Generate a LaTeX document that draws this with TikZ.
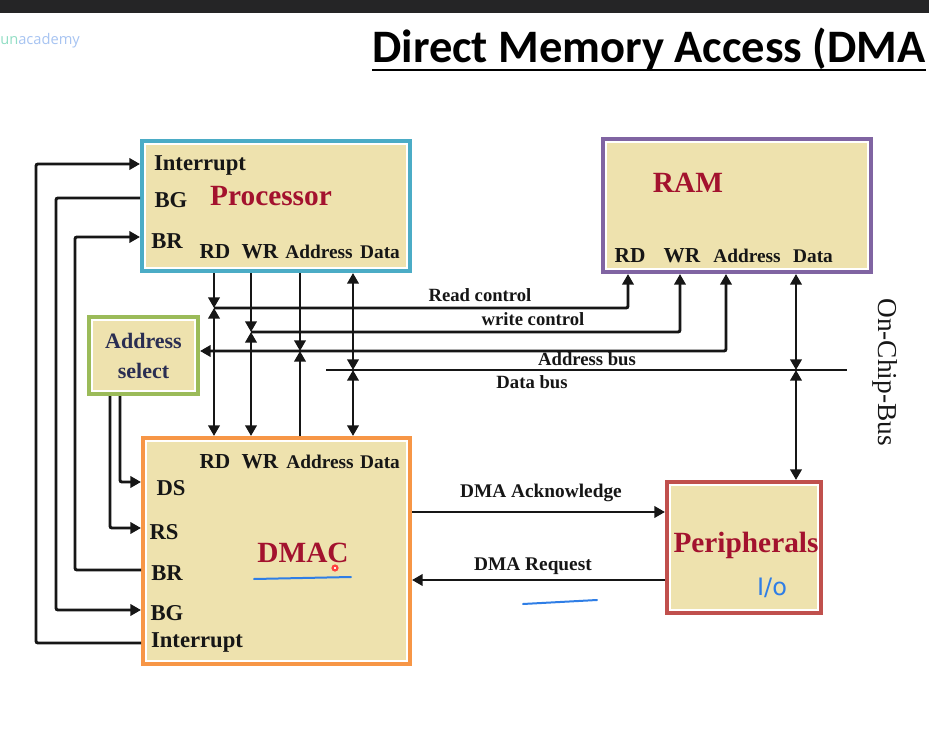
\documentclass[tikz,border=0pt]{standalone}
\usepackage{fontspec}
\setmainfont{Liberation Serif}
\newfontfamily\headfont{Carlito}
\newfontfamily\wmfont{Open Sans}
\newfontfamily\penfont{DejaVu Sans}
\usetikzlibrary{positioning,arrows.meta}
\definecolor{cfill}{HTML}{EEE2AE}
\definecolor{cproc}{HTML}{4BACC6}
\definecolor{cram}{HTML}{8064A2}
\definecolor{csel}{HTML}{9BBB59}
\definecolor{cdma}{HTML}{F79646}
\definecolor{cper}{HTML}{C0504D}
\definecolor{cname}{HTML}{A3122E}
\definecolor{cink}{HTML}{161616}
\definecolor{cnavy}{HTML}{2A2E52}
\definecolor{cpen}{HTML}{2F7EE6}
\definecolor{cbar}{HTML}{252526}
\definecolor{cwma}{HTML}{92DEC4}
\definecolor{cwmb}{HTML}{A7C4F2}
\tikzset{
  unit/.style={rectangle, draw=#1, fill=cfill, line width=3pt, inner sep=0pt,
    path picture={\draw[white, line width=1pt]
      ([shift={(2.2pt,-2.2pt)}]path picture bounding box.north west) rectangle
      ([shift={(-2.2pt,2.2pt)}]path picture bounding box.south east);}},
  unitname/.style={font=\bfseries\fontsize{22}{26}\selectfont, text=cname, inner sep=0pt, anchor=base},
  port/.style={font=\bfseries\fontsize{17}{20}\selectfont, text=cink, inner sep=0pt, anchor=base},
  sig/.style={font=\bfseries\fontsize{16}{19}\selectfont, text=cink, inner sep=0pt, anchor=base},
  adr/.style={font=\bfseries\fontsize{14.5}{17}\selectfont, text=cink, inner sep=0pt, anchor=base},
  busl/.style={font=\bfseries\fontsize{14}{17}\selectfont, text=cink, inner sep=0pt, anchor=base},
  flow/.style={-{Triangle[length=8pt,width=8.5pt]}, line width=2.2pt, draw=cink, rounded corners=1.5pt},
  both/.style={{Triangle[length=8pt,width=8.5pt]}-{Triangle[length=8pt,width=8.5pt]}, line width=2.2pt, draw=cink, rounded corners=1.5pt},
  bus/.style={line width=1.5pt, draw=cink},
  pen/.style={draw=cpen, line width=1.5pt, line cap=round}
}
\begin{document}
\begin{tikzpicture}[x=0.75pt, y=-0.75pt]
\useasboundingbox (0,0) rectangle (929,742);
\fill[white] (0,0) rectangle (929,742);
\fill[cbar] (0,0) rectangle (929,13);
\node[anchor=west, inner sep=0pt, font=\wmfont\fontsize{11}{13}\selectfont] (wm) at (0,41) {\textcolor{cwma}{un}\textcolor{cwmb}{academy}};
\node[anchor=base west, inner sep=0pt, font=\headfont\bfseries\fontsize{34.9}{40}\selectfont] (title) at (372,63) {Direct Memory Access (DMA};
\draw[line width=1.9pt] ([yshift=-5.2pt]title.base west) -- ([yshift=-5.2pt]title.base east);

% units
\node[unit=cproc, minimum width=201pt, minimum height=97.5pt] (proc) at (276,206) {};
\node[unit=cram, minimum width=201pt, minimum height=99.75pt] (ram) at (737,205.5) {};
\node[unit=csel, minimum width=81.75pt, minimum height=57.75pt, text=cnavy, align=center,
      font=\bfseries\fontsize{16.5}{22.5}\selectfont] (asel) at (143.5,355.5) {Address\\select};
\node[unit=cdma, minimum width=200.25pt, minimum height=169.5pt] (dmac) at (276.5,551) {};
\node[unit=cper, minimum width=115.5pt, minimum height=98.25pt] (per) at (744,547.5) {};

% processor labels
\node[unitname] (procT) at (271,205) {Processor};
\node[port] (pInt) at (200,171) {Interrupt};
\node[port] (pBG) at (171,207) {BG};
\node[port] (pBR) at (167,248) {BR};
\node[sig] (pRD) at (215,258) {RD};
\node[sig] (pWR) at (260,258) {WR};
\node[adr] (pAd) at (319,258) {Address};
\node[adr] (pDa) at (380,258) {Data};

% RAM labels
\node[unitname] (ramT) at (688,192) {RAM};
\node[sig] (rRD) at (630,262) {RD};
\node[sig] (rWR) at (682,262) {WR};
\node[adr] (rAd) at (747,262) {Address};
\node[adr] (rDa) at (813,262) {Data};

% DMAC labels
\node[sig] (dRD) at (215,468) {RD};
\node[sig] (dWR) at (260,468) {WR};
\node[adr] (dAd) at (320,468) {Address};
\node[adr] (dDa) at (380,468) {Data};
\node[port] (dDS) at (171,495) {DS};
\node[port] (dRS) at (164,539) {RS};
\node[port] (dBR) at (167,580) {BR};
\node[port] (dBG) at (167,620) {BG};
\node[port] (dInt) at (197,647) {Interrupt};
\node[unitname] (dmacT) at (303,562) {DMAC};
\node[unitname] (perT) at (746,552) {Peripherals};

% bus labels
\node[busl] (lRead) at (480,301) {Read control};
\node[busl] (lWrite) at (533,325) {write control};
\node[busl] (lAddr) at (587,365) {Address bus};
\node[busl] (lData) at (532,388) {Data bus};
\node[busl, font=\bfseries\fontsize{14.5}{17}\selectfont] (lAck) at (541,497) {DMA Acknowledge};
\node[busl, font=\bfseries\fontsize{14.5}{17}\selectfont] (lReq) at (533,570) {DMA Request};
\node[rotate=-90, inner sep=0pt, text=cink, font=\fontsize{20.5}{24}\selectfont] (lChip) at (885,372) {On-Chip-Bus};

% bus junctions
\coordinate (jRd) at (214,308);
\coordinate (jWr) at (251,332);
\coordinate (jAd) at (300,351);
\coordinate (jDa) at (353,370);
\coordinate (jRam) at (796,370);
\coordinate (dbL) at (326,370);
\coordinate (dbR) at (847,370);

\draw[bus] (dbL) -- (dbR);
\draw[flow] (proc.south -| jRd) -- (jRd);
\draw[both] (jRd) -- (dmac.north -| jRd);
\draw[flow] (proc.south -| jWr) -- (jWr);
\draw[both] (jWr) -- (dmac.north -| jWr);
\draw[flow] (proc.south -| jAd) -- (jAd);
\draw[flow] (dmac.north -| jAd) -- (jAd);
\draw[both] (proc.south -| jDa) -- (jDa);
\draw[both] (jDa) -- (dmac.north -| jDa);
\draw[flow] (jRd) -| (ram.south -| 628,0);
\draw[flow] (jWr) -| (ram.south -| 680,0);
\draw[both] (asel.east |- jAd) -| (ram.south -| 726,0);
\draw[both] (ram.south -| jRam) -- (jRam);
\draw[both] (jRam) -- (per.north -| jRam);

% control lines on the left
\draw[flow] (dmac.west |- 0,643) -- ++(-105,0) |- (proc.west |- 0,164);
\draw[flow] (proc.west |- 0,198) -- ++(-84,0) |- (dmac.west |- 0,610);
\draw[flow] (dmac.west |- 0,570) -- ++(-66,0) |- (proc.west |- 0,237);
\draw[flow] (asel.south -| 120,0) |- (dmac.west |- 0,482);
\draw[flow] (asel.south -| 110,0) |- (dmac.west |- 0,528);

% DMAC <-> peripherals
\draw[flow] (dmac.east |- 0,512) -- (per.west |- 0,512);
\draw[flow] (per.west |- 0,580) -- (dmac.east |- 0,580);

% pen marks
\draw[pen] (254,579) -- (351,577);
\draw[pen] (523,604) -- (597,600);
\node[text=cpen, inner sep=0pt, font=\penfont\fontsize{18}{20}\selectfont] (io) at (772,588) {I/o};
\node[circle, draw=red!75, fill=white, line width=1.6pt, inner sep=1.3pt] (ptr) at (335,568) {};
\end{tikzpicture}
\end{document}
